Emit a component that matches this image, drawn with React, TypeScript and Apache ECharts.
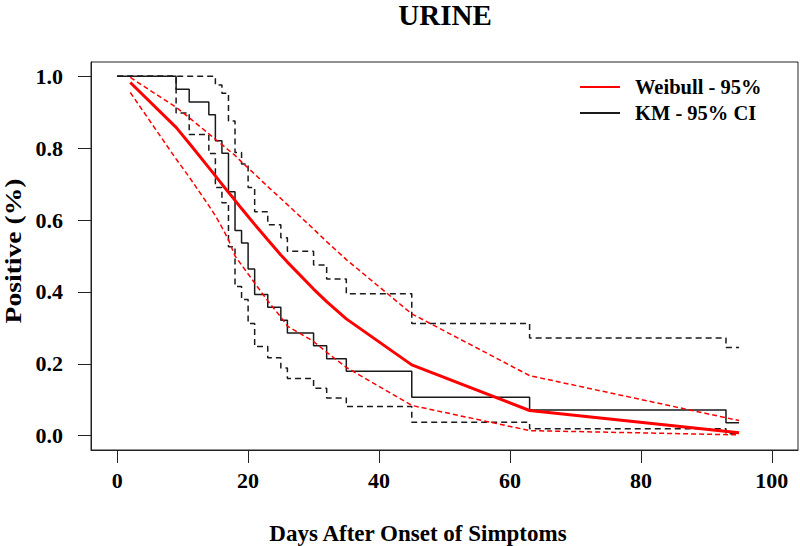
import React, { useEffect, useRef } from "react";
import * as echarts from "echarts";

const FONT = '"Liberation Serif", "Times New Roman", serif';

const X_TICKS = [0, 20, 40, 60, 80, 100];
const Y_TICKS = [0, 0.2, 0.4, 0.6, 0.8, 1.0];

// Kaplan-Meier step curve and its 95% CI
const KM_TIMES = [0, 9, 11, 14, 15, 16, 17, 18, 19, 20, 21, 23, 25, 26, 30, 32, 35, 45, 63, 93, 95];
const KM_SURV = [1, 0.964, 0.929, 0.893, 0.821, 0.786, 0.679, 0.571, 0.536, 0.464, 0.393, 0.357, 0.321, 0.286, 0.25, 0.214, 0.179, 0.107, 0.071, 0.036, 0.036];
const KM_UPPER = [1, 1, 1, 1, 0.976, 0.953, 0.876, 0.788, 0.756, 0.691, 0.623, 0.587, 0.551, 0.513, 0.475, 0.436, 0.395, 0.312, 0.272, 0.245, 0.245];
const KM_LOWER = [1, 0.898, 0.838, 0.785, 0.691, 0.648, 0.526, 0.415, 0.379, 0.312, 0.248, 0.217, 0.188, 0.159, 0.132, 0.105, 0.081, 0.037, 0.019, 0.005, 0.005];

// Weibull fit and its 95% band
const W_TIMES = [2, 9, 11, 14, 15, 16, 17, 18, 19, 20, 21, 23, 25, 26, 30, 32, 35, 45, 63, 95];
const WEIBULL = [0.983, 0.858, 0.814, 0.746, 0.723, 0.7, 0.677, 0.655, 0.632, 0.61, 0.588, 0.545, 0.503, 0.483, 0.408, 0.373, 0.325, 0.197, 0.07, 0.008];
const WEIBULL_UP = [0.997, 0.914, 0.885, 0.84, 0.825, 0.81, 0.795, 0.78, 0.762, 0.745, 0.728, 0.693, 0.66, 0.643, 0.575, 0.54, 0.49, 0.339, 0.167, 0.042];
const WEIBULL_LO = [0.955, 0.77, 0.72, 0.64, 0.612, 0.58, 0.545, 0.5, 0.475, 0.45, 0.425, 0.375, 0.33, 0.305, 0.262, 0.232, 0.19, 0.084, 0.014, 0.002];

const pairs = (xs: number[], ys: number[]) => xs.map((x, i) => [x, ys[i]]);

export default function App() {
  const ref = useRef<HTMLDivElement>(null);
  useEffect(() => {
    if (!ref.current) return;
    const chart = echarts.init(ref.current, undefined, { renderer: "svg" });
    const black = "#1a1a1a";
    const red = "#ff0000";
    const labelStyle = { fontFamily: FONT, fontWeight: "bold" as const, fontSize: 22, color: "#000" };
    chart.setOption({
      animation: false,
      backgroundColor: "#fff",
      grid: { left: 91, top: 62, width: 707, height: 388, show: true, borderColor: "#222", borderWidth: 1, containLabel: false },
      xAxis: {
        type: "value", min: -4, max: 104, position: "bottom",
        axisLine: { show: true, onZero: false, lineStyle: { color: "#222", width: 1 } },
        splitLine: { show: false },
        axisTick: { show: true, inside: false, length: 13, customValues: X_TICKS, lineStyle: { color: "#222", width: 1 } },
        axisLabel: { ...labelStyle, margin: 19, customValues: X_TICKS },
      },
      yAxis: {
        type: "value", min: -0.04, max: 1.04, position: "left",
        axisLine: { show: true, onZero: false, lineStyle: { color: "#222", width: 1 } },
        splitLine: { show: false },
        axisTick: { show: true, inside: false, length: 13, customValues: Y_TICKS, lineStyle: { color: "#222", width: 1 } },
        axisLabel: { ...labelStyle, margin: 28, customValues: Y_TICKS, formatter: (v: number) => v.toFixed(1) },
      },
      legend: {
        orient: "vertical", left: 575, top: 70, itemWidth: 40, itemHeight: 2, itemGap: 2, icon: "rect",
        textStyle: { fontFamily: FONT, fontWeight: "bold", fontSize: 20.5, color: "#000", lineHeight: 24, padding: [0, 0, 0, 10] },
        data: ["Weibull - 95%", "KM - 95% CI"],
      },
      graphic: [
        { type: "text", x: 445, y: 15, style: { text: "URINE", fontFamily: FONT, fontWeight: "bold", fontSize: 29, fill: "#000", align: "center", verticalAlign: "middle" } },
        { type: "text", x: 418, y: 533, style: { text: "Days After Onset of Simptoms", fontFamily: FONT, fontWeight: "bold", fontSize: 23, fill: "#000", align: "center", verticalAlign: "middle" } },
        { type: "text", x: 13, y: 251, rotation: Math.PI / 2, scaleX: 1.15, style: { text: "Positive (%)", fontFamily: FONT, fontWeight: "bold", fontSize: 24, fill: "#000", align: "center", verticalAlign: "middle" } },
      ],
      series: [
        { name: "KM - 95% CI", type: "line", step: "end", data: pairs(KM_TIMES, KM_SURV), symbol: "none", itemStyle: { color: black }, lineStyle: { color: black, width: 1.5 } },
        { name: "KM upper", type: "line", step: "end", data: pairs(KM_TIMES, KM_UPPER), symbol: "none", itemStyle: { color: black }, lineStyle: { color: black, width: 1.5, type: [6, 4] } },
        { name: "KM lower", type: "line", step: "end", data: pairs(KM_TIMES, KM_LOWER), symbol: "none", itemStyle: { color: black }, lineStyle: { color: black, width: 1.5, type: [6, 4] } },
        { name: "Weibull upper", type: "line", data: pairs(W_TIMES, WEIBULL_UP), symbol: "none", itemStyle: { color: red }, lineStyle: { color: red, width: 1.5, type: [5, 3] } },
        { name: "Weibull lower", type: "line", data: pairs(W_TIMES, WEIBULL_LO), symbol: "none", itemStyle: { color: red }, lineStyle: { color: red, width: 1.5, type: [5, 3] } },
        { name: "Weibull - 95%", type: "line", data: pairs(W_TIMES, WEIBULL), symbol: "none", itemStyle: { color: red }, lineStyle: { color: red, width: 3 } },
      ],
    });
    return () => chart.dispose();
  }, []);
  return <div ref={ref} style={{ width: 800, height: 546, position: "absolute", left: 0, top: 0 }} />;
}
